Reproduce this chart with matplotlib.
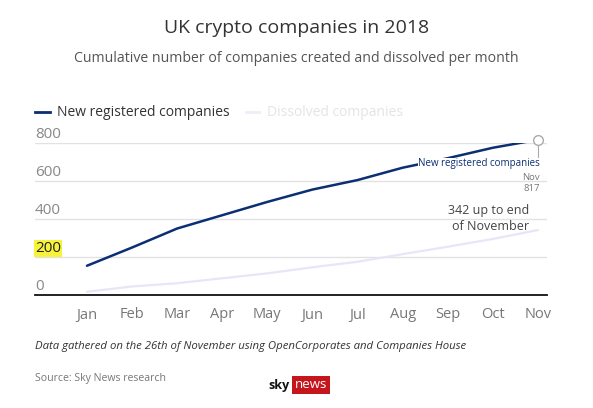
import matplotlib
matplotlib.use("Agg")
import matplotlib.pyplot as plt
from matplotlib.lines import Line2D
from matplotlib.transforms import blended_transform_factory

months = ["Jan", "Feb", "Mar", "Apr", "May", "Jun", "Jul", "Aug", "Sep", "Oct", "Nov"]
new_registered = [154, 250, 350, 420, 490, 555, 605, 670, 720, 775, 817]
dissolved = [17, 45, 62, 88, 114, 146, 175, 215, 254, 295, 342]
y_ticks = [0, 200, 400, 600, 800]

FONT = "Open Sans"
W, H = 593, 408
fig = plt.figure(figsize=(W / 100, H / 100), dpi=100)
fig.patch.set_facecolor("white")

def fx(px):
    return px / W

def fy(py):
    return 1 - py / H

ax = fig.add_axes([fx(35), fy(295), fx(547) - fx(35), fy(143) - fy(295)])
x = list(range(len(months)))
navy = "#0b2f73"
pale = "#e6e6f8"

ax.plot(x, dissolved, color=pale, lw=1.6, solid_capstyle="round", zorder=3)
ax.plot(x, new_registered, color=navy, lw=1.8, solid_capstyle="round", zorder=4)

ax.set_xlim(-1.153, 10.2)
ax.set_ylim(0, 800)
for s in ["top", "left", "right"]:
    ax.spines[s].set_visible(False)
ax.spines["bottom"].set_color("#111111")
ax.spines["bottom"].set_linewidth(1.3)
ax.set_yticks(y_ticks)
ax.set_yticklabels([])
ax.tick_params(axis="y", length=0)
ax.grid(axis="y", color="#e2e2e2", lw=1)
ax.set_axisbelow(True)
ax.set_xticks(x)
ax.set_xticklabels(months, fontsize=10.5, color="#777777", family=FONT)
ax.tick_params(axis="x", length=0, pad=9)

trans = blended_transform_factory(ax.transAxes, ax.transData)
for v in y_ticks:
    kw = dict(transform=trans, ha="left", va="bottom", fontsize=11,
              color="#888888", family=FONT)
    if v == 200:
        kw["color"] = "#222222"
        kw["bbox"] = dict(facecolor="#f6f33a", edgecolor="none", pad=0.5)
    ax.text(0.0, v + 6, str(v), **kw)

# end marker and annotations
ax.plot([x[-1]], [new_registered[-1]], marker="o", ms=7, mfc="white",
        mec="#aaaaaa", mew=1, zorder=6, clip_on=False)
ax.plot([x[-1], x[-1]], [new_registered[-1] - 20, 690], color="#aaaaaa", lw=0.8, zorder=5)
ax.text(x[-1] + 0.05, 690, "New registered companies", ha="right", va="center",
        fontsize=7, color=navy, family=FONT, zorder=7,
        bbox=dict(facecolor="white", edgecolor="none", pad=0.3))
ax.text(x[-1] + 0.05, 621, "Nov", ha="right", va="center", fontsize=6.8,
        color="#777777", family=FONT)
ax.text(x[-1] + 0.05, 558, str(new_registered[-1]), ha="right", va="center",
        fontsize=6.8, color="#777777", family=FONT)
ax.text(x[-1] - 0.2, 403, f"{dissolved[-1]} up to end\nof November", ha="right",
        va="center", fontsize=9, color="#444444", family=FONT, linespacing=1.25,
        multialignment="right")

# titles
fig.text(0.5, fy(28), "UK crypto companies in 2018", ha="center", va="center",
         fontsize=14, color="#333333", family=FONT)
fig.text(0.5, fy(59), "Cumulative number of companies created and dissolved per month",
         ha="center", va="center", fontsize=10.2, color="#555555", family=FONT)

# legend
fig.add_artist(Line2D([fx(35), fx(50)], [fy(112), fy(112)], color=navy, lw=2))
fig.text(fx(57), fy(112), "New registered companies", ha="left", va="center",
         fontsize=10, color="#333333", family=FONT)
fig.add_artist(Line2D([fx(246), fx(259)], [fy(112), fy(112)], color="#eeeef8", lw=2))
fig.text(fx(267), fy(112), "Dissolved companies", ha="left", va="center",
         fontsize=10, color="#e4e4e4", family=FONT)

# footer
fig.text(fx(35), fy(347), "Data gathered on the 26th of November using OpenCorporates and Companies House",
         ha="left", va="center", fontsize=8.2, style="italic", color="#333333", family=FONT)
fig.text(fx(35), fy(378), "Source: Sky News research", ha="left", va="center",
         fontsize=7.6, color="#777777", family=FONT)

# logo
fig.text(fx(290), fy(385), "sky", ha="right", va="center", fontsize=9,
         weight="bold", color="#111111", family=FONT)
fig.text(fx(311), fy(385), "news", ha="center", va="center", fontsize=9.5,
         color="white", family=FONT,
         bbox=dict(facecolor="#c4161c", edgecolor="none", boxstyle="square,pad=0.2"))

fig.savefig("out.png", dpi=100)
